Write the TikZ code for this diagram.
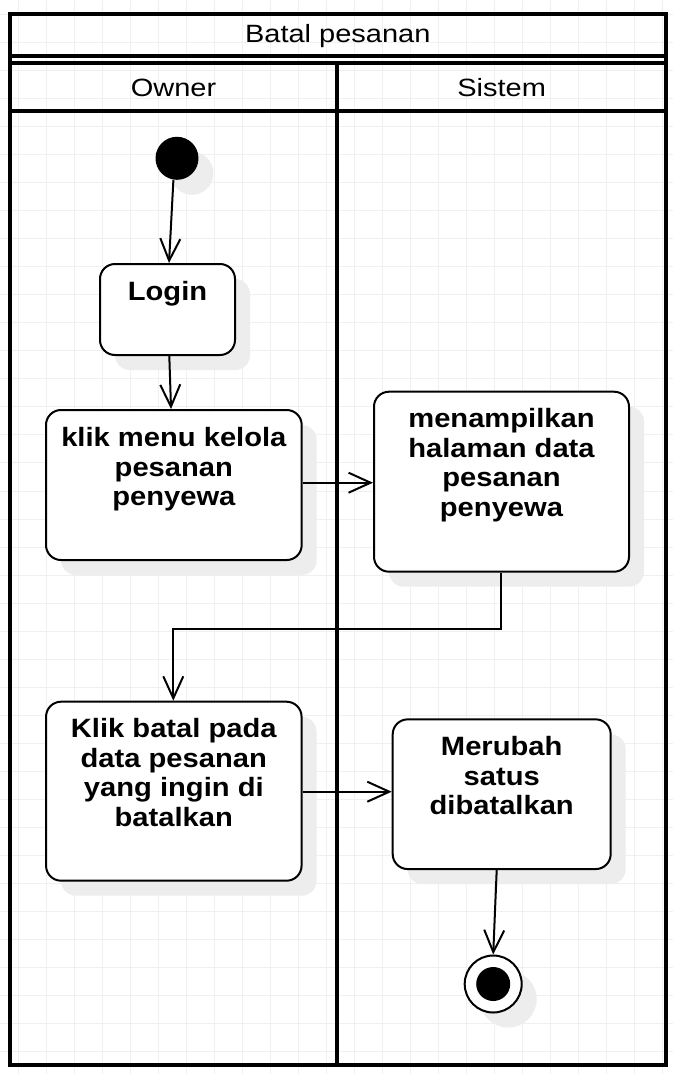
\documentclass[tikz,border=0pt]{standalone}
\usepackage{fontspec}
\setmainfont{Liberation Sans}
\newfontfamily\boxfont[FakeStretch=1.1]{Liberation Sans}
\newfontfamily\headfont[FakeStretch=1.16]{Liberation Sans}
\usetikzlibrary{arrows.meta,calc,shadows}
\begin{document}
\begin{tikzpicture}[x=1pt,y=-1pt,
  gridline/.style={draw=black!6,line width=1pt},
  frame/.style={draw=black,line width=4pt,line join=miter},
  shade/.style={drop shadow={shadow xshift=15pt,shadow yshift=-15pt,opacity=1,fill=black!7}},
  actbox/.style={draw=black,line width=2pt,rounded corners=15pt,fill=white,inner sep=0pt,shade},
  lbl/.style={font=\boxfont\bfseries\fontsize{26.5}{29.4}\selectfont,align=center,anchor=base,inner sep=0pt},
  headlbl/.style={font=\headfont\fontsize{25}{30}\selectfont,anchor=base,inner sep=0pt},
  startst/.style={circle,fill=black,draw=none,minimum size=43pt,inner sep=0pt,shade},
  endst/.style={circle,fill=white,draw=black,line width=2pt,minimum size=57pt,inner sep=0pt,shade},
  endin/.style={circle,fill=black,draw=none,minimum size=34pt,inner sep=0pt},
  arr/.style={draw=black,line width=2pt,-{Straight Barb[length=22pt,width=20pt]}},
]
\useasboundingbox[fill=white] (0,0) rectangle (673,1074);
% grid
\foreach \i in {0,...,23} {\draw[gridline] ({18.3+28.03*\i},0) -- ({18.3+28.03*\i},1074);}
\foreach \j in {0,...,37} {\draw[gridline] (0,{14.5+28.03*\j}) -- (673,{14.5+28.03*\j});}
% pool and lanes
\draw[frame] (9.6,13.7) rectangle (666,1064.7);
\draw[frame] (9.6,56.3) -- (666,56.3);
\draw[frame] (9.6,62.7) -- (666,62.7);
\draw[frame] (9.6,111) -- (666,111);
\draw[frame] (337.4,62.7) -- (337.4,1064.7);
\node[headlbl] (title) at (337.8,42.3) {Batal pesanan};
\node[headlbl] (owner) at (173.5,96.5) {Owner};
\node[headlbl] (sistem) at (501.7,96.5) {Sistem};
% nodes (text nodes are anchored at the baseline of their last line)
\node[startst] (start) at (177,158.3) {};
\node[actbox,minimum width=135pt,minimum height=91pt] (login) at (167.5,309.5) {};
\node[lbl] (loginT) at ($(login.north)+(0,37.7)$) {Login};
\node[actbox,minimum width=255.7pt,minimum height=150pt] (klik) at (173.85,485) {};
\node[lbl] (klikT) at ($(klik.north)+(0,96.4)$) {klik menu kelola\\pesanan\\penyewa};
\node[actbox,minimum width=255pt,minimum height=180pt] (tampil) at (501.5,481.7) {};
\node[lbl] (tampilT) at ($(tampil.north)+(0,125.4)$) {menampilkan\\halaman data\\pesanan\\penyewa};
\node[actbox,minimum width=255.5pt,minimum height=179pt] (batal) at (173.8,791.2) {};
\node[lbl] (batalT) at ($(batal.north)+(0,125.4)$) {Klik batal pada\\data pesanan\\yang ingin di\\batalkan};
\node[actbox,minimum width=218pt,minimum height=149.7pt] (ubah) at (501.7,794.2) {};
\node[lbl] (ubahT) at ($(ubah.north)+(0,96.2)$) {Merubah\\satus\\dibatalkan};
\node[endst] (endn) at (493.2,984) {};
\node[endin] (endinner) at (endn.center) {};
% connectors
\draw[arr] ($(start.center)+(-3.6,21.7)$) -- ($(login.north)+(1.5,0)$);
\draw[arr] ($(login.south)+(1.8,0)$) -- ($(klik.north)+(-2.8,0)$);
\draw[arr] ($(klik.east)+(0,-2.3)$) -- ($(tampil.west)+(0,1)$);
\draw[arr] ($(tampil.south)+(-0.8,0)$) -- ++(0,56.6) -| ($(batal.north)+(-0.5,0)$);
\draw[arr] ($(batal.east)+(0,0.5)$) -- ($(ubah.west)+(0,-2.5)$);
\draw[arr] ($(ubah.south)+(-5,0)$) -- (endn.north);
\end{tikzpicture}
\end{document}
